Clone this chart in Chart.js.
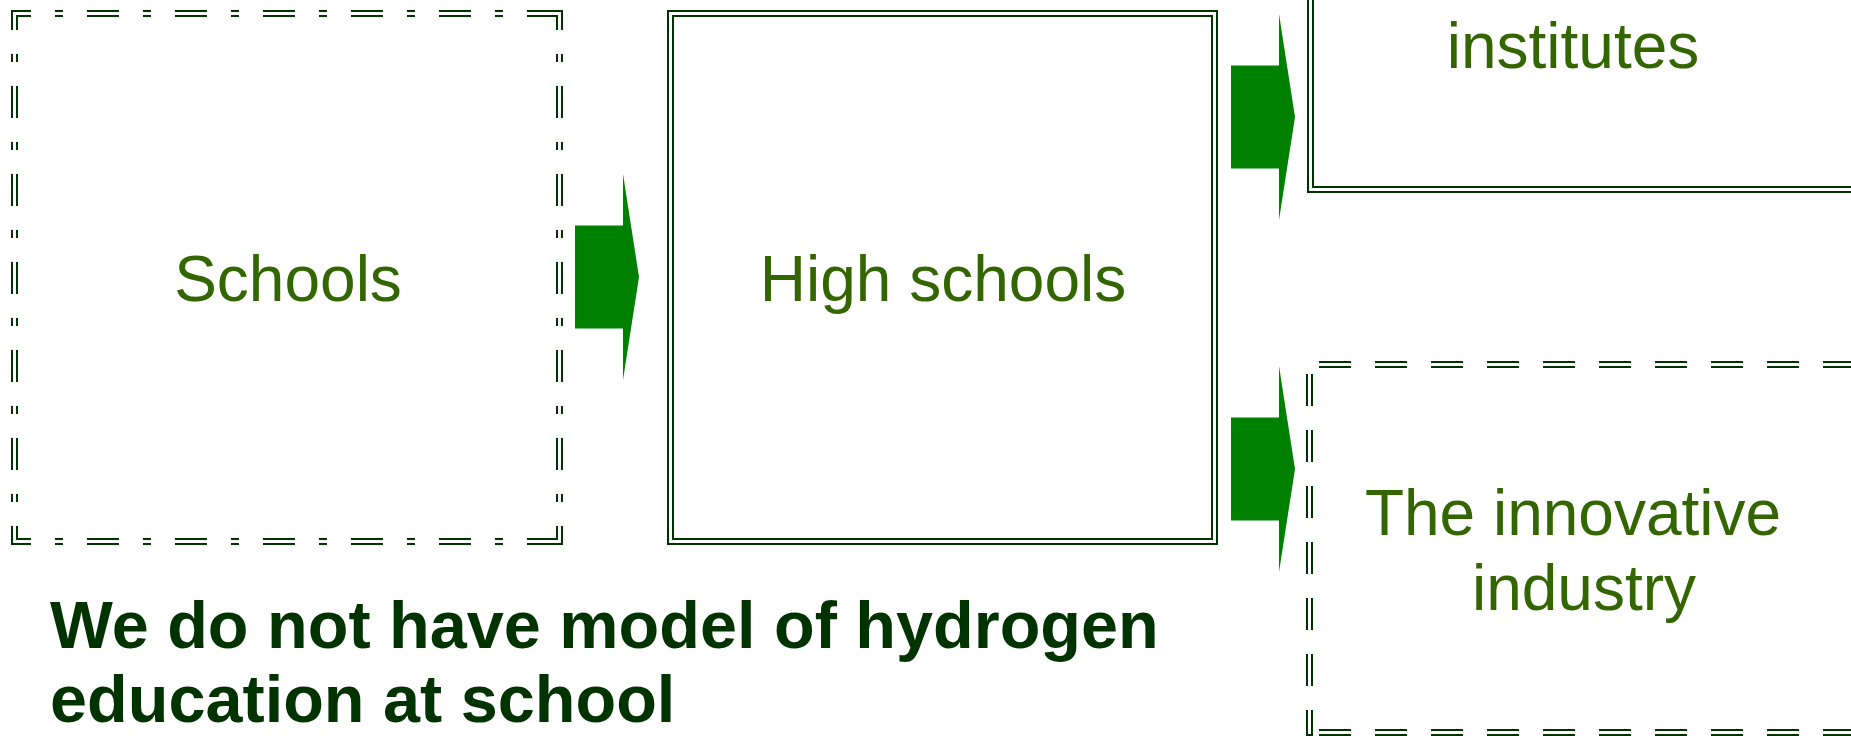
<!DOCTYPE html>
<html>
<head>
<meta charset="utf-8">
<title>Hydrogen education</title>
<script src="https://cdn.jsdelivr.net/npm/chart.js@4.4.1/dist/chart.umd.min.js"></script>
<style>
  html, body { margin: 0; padding: 0; background: #fff; overflow: hidden; }
</style>
</head>
<body>
<canvas id="myChart" width="1851" height="736"></canvas>
<script>
// axes run over the whole page, 0..W and 0..H (y downwards)
var W = 1851, H = 736

// boxes, outer edge of the double line (the right ones run off the page)
var boxLeft = [11, 667, 1307, 1306]
var boxTop = [10, 10, -20, 361]
var boxRight = [563, 1218, 1880, 1880]
var boxBottom = [545, 545, 193, 736]
var boxKind = ['dashdot', 'solid', 'solid', 'dash']

// arrows: tail x and middle y
var arrowTail = [575, 1231, 1231]
var arrowMid = [277, 117, 469]

// texts inside the boxes
var labelText = ['Schools', 'High schools', 'institutes', 'The innovative', 'industry']
var labelX = [288, 943, 1573, 1573, 1584]
var labelY = [301, 301, 68, 535, 610]

// note under the boxes
var noteLines = ['We do not have model of hydrogen', 'education at school']
var noteX = 50
var noteY = [648, 722]

var LINE = '#003300'
var GAP = {x: null, y: null}

// one piece for each side, so every side starts its dashes at the corner
function sides(i, inset) {
  var l = boxLeft[i], t = boxTop[i], r = boxRight[i], b = boxBottom[i]
  var cl = l + 3.5, ct = t + 3.5, cr = r - 3.5, cb = b - 3.5
  return [
    {x: l + inset, y: ct}, {x: r - inset, y: ct}, GAP,
    {x: cl, y: t + inset}, {x: cl, y: b - inset}, GAP,
    {x: l + inset, y: cb}, {x: r - inset, y: cb}, GAP,
    {x: cr, y: t + inset}, {x: cr, y: b - inset}
  ]
}

// closed rectangle, the first side drawn twice so the corner is joined
function ring(i) {
  var cl = boxLeft[i] + 3.5, ct = boxTop[i] + 3.5, cr = boxRight[i] - 3.5, cb = boxBottom[i] - 3.5
  return [{x: cl, y: ct}, {x: cr, y: ct}, {x: cr, y: cb}, {x: cl, y: cb}, {x: cl, y: ct}, {x: cr, y: ct}]
}

function arrow(k) {
  var x0 = arrowTail[k], y = arrowMid[k]
  return [
    {x: x0, y: y - 51.5}, {x: x0 + 48, y: y - 51.5}, {x: x0 + 48, y: y - 103},
    {x: x0 + 64, y: y}, {x: x0 + 48, y: y + 103}, {x: x0 + 48, y: y + 51.5},
    {x: x0, y: y + 51.5}, {x: x0, y: y - 51.5}
  ]
}

var dashes = {
  dashdot: {pattern: [32, 24, 8, 24], offset: 12},
  dash: {pattern: [32, 24], offset: 43},
  solid: {pattern: [], offset: 0}
}

var datasets = []

boxKind.forEach(function (kind, i) {
  var d = dashes[kind]
  var solid = kind === 'solid'
  // dark wide line, then a thin white line on top gives the double line
  datasets.push({
    data: solid ? ring(i) : sides(i, 0),
    borderColor: LINE, borderWidth: 7,
    borderDash: d.pattern, borderDashOffset: d.offset,
    order: 3
  })
  datasets.push({
    data: solid ? ring(i) : sides(i, 2),
    borderColor: '#ffffff', borderWidth: 3,
    borderDash: d.pattern, borderDashOffset: d.offset + 2,
    order: 2
  })
})

arrowTail.forEach(function (x, k) {
  datasets.push({
    data: arrow(k),
    borderColor: 'rgba(0,0,0,0)', borderWidth: 1,
    backgroundColor: '#008000',
    fill: 'shape',
    order: 1
  })
})

datasets.forEach(function (ds) {
  ds.showLine = true
  ds.pointRadius = 0
  ds.pointHoverRadius = 0
  ds.tension = 0
  ds.spanGaps = false
  ds.borderCapStyle = 'butt'
  ds.borderJoinStyle = 'miter'
})

var textPlugin = {
  id: 'boxText',
  afterDatasetsDraw: function (chart) {
    var ctx = chart.ctx
    var xs = chart.scales.x, ys = chart.scales.y
    ctx.save()
    ctx.textBaseline = 'alphabetic'

    ctx.fillStyle = '#336600'
    ctx.font = '64px "Liberation Sans", Arial, sans-serif'
    ctx.textAlign = 'center'
    labelText.forEach(function (t, i) {
      ctx.fillText(t, xs.getPixelForValue(labelX[i]), ys.getPixelForValue(labelY[i]))
    })

    ctx.fillStyle = '#003300'
    ctx.font = 'bold 66.6px "Liberation Sans", Arial, sans-serif'
    ctx.textAlign = 'left'
    noteLines.forEach(function (t, i) {
      ctx.fillText(t, xs.getPixelForValue(noteX), ys.getPixelForValue(noteY[i]))
    })
    ctx.restore()
  }
}

var myChart = document.getElementById('myChart').getContext('2d')

var chart = new Chart(myChart, {
  type: 'scatter',
  data: { datasets: datasets },
  options: {
    responsive: false,
    animation: false,
    layout: { padding: 0 },
    plugins: {
      legend: { display: false },
      tooltip: { enabled: false }
    },
    scales: {
      x: { type: 'linear', min: 0, max: W, display: false },
      y: { type: 'linear', min: 0, max: H, reverse: true, display: false }
    }
  },
  plugins: [textPlugin]
})
</script>
</body>
</html>
